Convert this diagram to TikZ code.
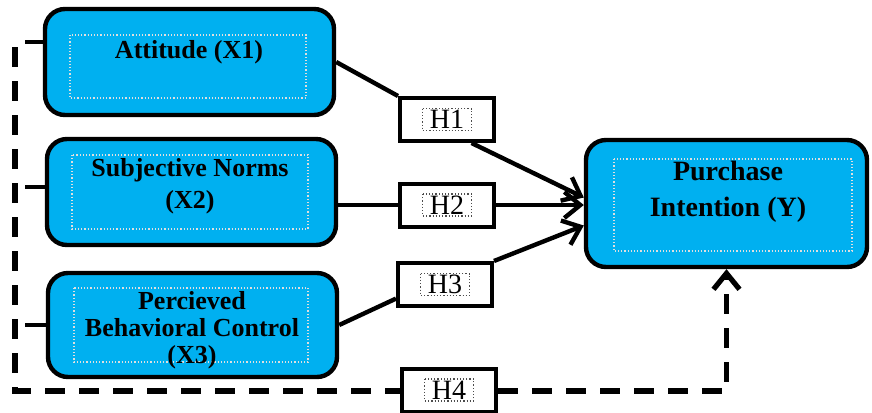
\documentclass[tikz,border=0pt]{standalone}
\usepackage{fontspec}
\setmainfont{Liberation Serif}
\usetikzlibrary{positioning,calc,arrows.meta}
\definecolor{boxBlue}{HTML}{00B0F0}
\tikzset{
  construct/.style={rectangle, rounded corners=10pt, fill=boxBlue, draw, line width=2.2pt},
  frameIn/.style={draw=white!75!gray, densely dotted, line width=0.6pt},
  hypFrame/.style={draw=black!70, densely dotted, line width=0.6pt},
  hyp/.style={rectangle, fill=white, draw, line width=2pt, minimum width=47pt, minimum height=21.5pt, font=\fontsize{14}{16}\selectfont},
  lbl/.style={align=center, font=\bfseries\fontsize{13}{14}\selectfont},
  link/.style={line width=2.2pt},
  hypArrow/.style={link, -{Straight Barb[length=8pt,width=13pt]}},
  modLink/.style={line width=2.6pt, dash pattern=on 10pt off 7pt}
}
\begin{document}
\begin{tikzpicture}[x=0.5pt, y=-0.5pt]
  \useasboundingbox (0,0) rectangle (872,412);
  % constructs
  \node [construct, minimum width=144.5pt, minimum height=53pt] (att) at (189.5,62) {};
  \node [construct, minimum width=144.5pt, minimum height=53pt] (sn) at (191.5,192) {};
  \node [construct, minimum width=144.5pt, minimum height=52pt] (pbc) at (192.5,325) {};
  \node [construct, minimum width=140.5pt, minimum height=63.5pt] (pi) at (726.5,203.5) {};
  \draw [frameIn] (70,35) rectangle (306,98);
  \draw [frameIn] (72,155) rectangle (308,229);
  \draw [frameIn] (74,288) rectangle (308,362);
  \draw [frameIn] (614,159) rectangle (852,251);
  \node [lbl] (attTxt) at (189,52) {Attitude (X1)};
  \node [lbl, font=\bfseries\fontsize{13}{16}\selectfont] (snTxt) at (190,186) {Subjective Norms\\(X2)};
  \node [lbl, font=\bfseries\fontsize{13}{13.5}\selectfont] (pbcTxt) at (192,330) {Percieved\\Behavioral Control\\(X3)};
  \node [lbl, font=\bfseries\fontsize{14}{18}\selectfont] (piTxt) at (728,192) {Purchase\\Intention (Y)};
  % hypotheses
  \node [hyp] (h1) at (447,119.5) {H1};
  \node [hyp] (h2) at (447,205) {H2};
  \node [hyp] (h3) at (445,284.5) {H3};
  \node [hyp] (h4) at (449,390) {H4};
  \foreach \h in {h1,h2,h3,h4}
    \draw [hypFrame] ($(\h)+(-24.5,-11)$) rectangle ($(\h)+(24.5,11)$);
  % paths
  \draw [link] (att.east) -- (h1.north west);
  \draw [hypArrow] ($(h1.south)!0.5!(h1.south east)$) -- ($(pi.west)+(0,-6)$);
  \draw [link] (sn.east |- h2.west) -- (h2.west);
  \draw [hypArrow] (h2.east) -- (pi.west |- h2.east);
  \draw [link] (pbc.east) -- ($(h3.west)!0.6!(h3.south west)$);
  \draw [hypArrow] (h3.north east) -- ($(pi.west)+(0,22)$);
  % joint path
  \foreach \t/\yy/\b in {1/42/att,2/187/sn,3/325/pbc}{
    \coordinate (tick\t) at (25,\yy);
    \draw [link] (tick\t) -- (tick\t -| \b.west);
  }
  \coordinate (modTop) at (15,47);
  \coordinate (modBot) at (15,391);
  \draw [modLink] (modTop) -- (modBot) -- (modBot -| h4.west);
  \draw [modLink, -{Straight Barb[length=8pt,width=13pt]}] (h4.east |- modBot) -| (pi.south);
\end{tikzpicture}
\end{document}
